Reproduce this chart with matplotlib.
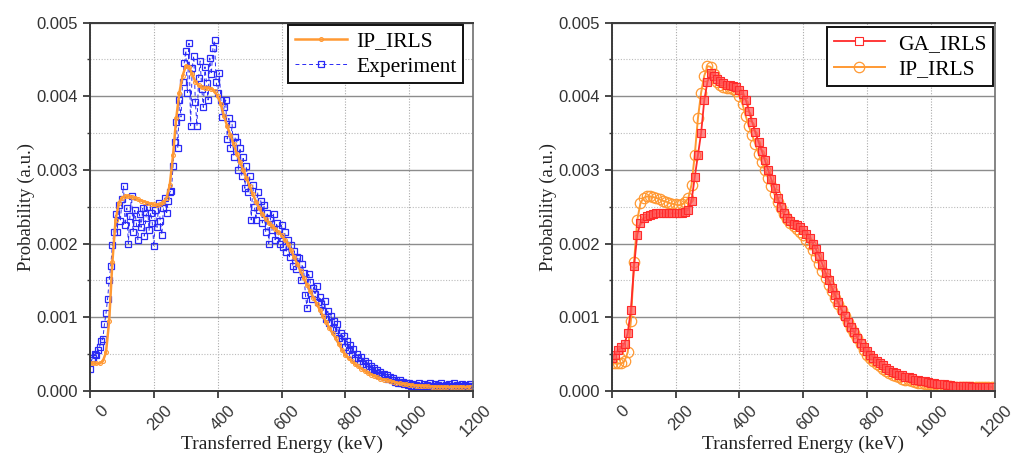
import numpy as np
import matplotlib
matplotlib.use("Agg")
import matplotlib.pyplot as plt
import matplotlib.transforms as mtransforms
from matplotlib.ticker import MultipleLocator, FormatStrFormatter

plt.rcParams["font.family"] = ["Liberation Sans", "DejaVu Sans"]

# energy grids (keV)
ip_energy = np.arange(0, 1200, 10)
exp_energy = np.arange(0, 1200, 5)

# IP_IRLS reconstruction, 10 keV steps
ip_irls = [
    0.00038, 0.00037, 0.00037, 0.00037, 0.00040, 0.00052, 0.00095, 0.00175, 0.00232, 0.00255,
    0.00262, 0.00264, 0.00264, 0.00263, 0.00262, 0.00260, 0.00258, 0.00257, 0.00255, 0.00254,
    0.00253, 0.00252, 0.00253, 0.00256, 0.00262, 0.00280, 0.00320, 0.00370, 0.00405, 0.00428,
    0.00441, 0.00440, 0.00430, 0.00420, 0.00415, 0.00412, 0.00411, 0.00411, 0.00410, 0.00407,
    0.00400, 0.00389, 0.00373, 0.00359, 0.00347, 0.00335, 0.00322, 0.00311, 0.00300, 0.00289,
    0.00278, 0.00267, 0.00257, 0.00248, 0.00240, 0.00233, 0.00228, 0.00224, 0.00220, 0.00216,
    0.00211, 0.00205, 0.00199, 0.00191, 0.00181, 0.00172, 0.00162, 0.00153, 0.00144, 0.00135,
    0.00126, 0.00118, 0.00110, 0.00101, 0.00093, 0.00085, 0.00078, 0.00071, 0.00063, 0.00055,
    0.00048, 0.00044, 0.00040, 0.00036, 0.00033, 0.00030, 0.00027, 0.00024, 0.00022, 0.00020,
    0.00018, 0.00016, 0.00015, 0.00014, 0.00013, 0.00012, 0.00011, 0.00010, 0.00009, 0.000085,
    0.00008, 0.000075, 0.00007, 0.000066, 0.000062, 0.00006, 0.000058, 0.000056, 0.000054, 0.000052,
    0.00005, 0.00005, 0.00005, 0.00005, 0.00005, 0.00005, 0.00005, 0.00005, 0.00005, 0.00005,
]

# GA_IRLS reconstruction, 10 keV steps
ga_irls = [
    0.00044, 0.00049, 0.00055, 0.00059, 0.00064, 0.00078, 0.00110, 0.00170, 0.00212, 0.00228,
    0.00234, 0.00237, 0.00239, 0.00240, 0.00241, 0.00241, 0.00241, 0.00241, 0.00241, 0.00241,
    0.00241, 0.00241, 0.00242, 0.00243, 0.00246, 0.00258, 0.00290, 0.00320, 0.00350, 0.00395,
    0.00420, 0.00431, 0.00428, 0.00424, 0.00421, 0.00418, 0.00416, 0.00415, 0.00414, 0.00412,
    0.00409, 0.00403, 0.00395, 0.00380, 0.00365, 0.00351, 0.00338, 0.00326, 0.00313, 0.00300,
    0.00287, 0.00275, 0.00262, 0.00250, 0.00241, 0.00234, 0.00230, 0.00227, 0.00225, 0.00222,
    0.00218, 0.00213, 0.00207, 0.00200, 0.00192, 0.00183, 0.00172, 0.00160, 0.00150, 0.00140,
    0.00130, 0.00120, 0.00110, 0.00101, 0.00094, 0.00087, 0.00080, 0.00072, 0.00065, 0.00059,
    0.00054, 0.00049, 0.00045, 0.00041, 0.00038, 0.00035, 0.00031, 0.00028, 0.00026, 0.00024,
    0.00022, 0.00021, 0.00019, 0.00018, 0.00017, 0.00015, 0.00014, 0.00013, 0.00013, 0.00012,
    0.00011, 0.00010, 0.000095, 0.00009, 0.000085, 0.00008, 0.000075, 0.00007, 0.000068, 0.000065,
    0.000062, 0.00006, 0.000058, 0.000056, 0.000055, 0.000054, 0.000053, 0.000052, 0.000051, 0.00005,
]

# measured spectrum, 5 keV steps
experiment = [
    # 0-75
    0.00030, 0.00042, 0.00045, 0.00050, 0.00048, 0.00055, 0.00060, 0.00068, 0.00070, 0.00090,
    0.00105, 0.00125, 0.00150, 0.00170, 0.00198, 0.00215,
    # 80-250
    0.00240, 0.00215, 0.00252, 0.00230, 0.00260, 0.00278, 0.00225, 0.00248, 0.00200, 0.00238,
    0.00265, 0.00215, 0.00245, 0.00228, 0.00205, 0.00240, 0.00222, 0.00248, 0.00210, 0.00235,
    0.00250, 0.00218, 0.00242, 0.00228, 0.00196, 0.00245, 0.00222, 0.00255, 0.00230, 0.00212,
    0.00248, 0.00262, 0.00242, 0.00258, 0.00270,
    # 255-300
    0.00272, 0.00305, 0.00338, 0.00365, 0.00330, 0.00395, 0.00372, 0.00420, 0.00445, 0.00462,
    # 305-420
    0.00405, 0.00472, 0.00360, 0.00438, 0.00455, 0.00392, 0.00360, 0.00425, 0.00448, 0.00410,
    0.00385, 0.00440, 0.00418, 0.00395, 0.00452, 0.00430, 0.00465, 0.00476, 0.00420, 0.00405,
    0.00432, 0.00395, 0.00372, 0.00385,
    # 425-650
    0.00395, 0.00342, 0.00370, 0.00330, 0.00362, 0.00318, 0.00345, 0.00338, 0.00300, 0.00330,
    0.00292, 0.00318, 0.00275, 0.00305, 0.00270, 0.00292, 0.00232, 0.00280, 0.00250, 0.00232,
    0.00270, 0.00245, 0.00258, 0.00228, 0.00252, 0.00215, 0.00242, 0.00200, 0.00235, 0.00218,
    0.00240, 0.00205, 0.00228, 0.00212, 0.00200, 0.00225, 0.00195, 0.00215, 0.00188, 0.00205,
    0.00182, 0.00198, 0.00170, 0.00190, 0.00165, 0.00182,
    # 655-1000
    0.00180, 0.00150, 0.00172, 0.00160, 0.00130, 0.00112, 0.00158, 0.00148, 0.00125, 0.00140,
    0.00132, 0.00142, 0.00120, 0.00128, 0.00118, 0.00108, 0.00122, 0.00098, 0.00108, 0.00092,
    0.00102, 0.00085, 0.00095, 0.00082, 0.00090, 0.00072, 0.00078, 0.00068, 0.00074, 0.00060,
    0.00068, 0.00055, 0.00062, 0.00050, 0.00056, 0.00045, 0.00050, 0.00044, 0.00040, 0.00046,
    0.00036, 0.00040, 0.00033, 0.00038, 0.00030, 0.00034, 0.00028, 0.00031, 0.00024, 0.00028,
    0.00022, 0.00025, 0.00020, 0.00023, 0.00018, 0.00021, 0.00016, 0.00019, 0.00015, 0.00017,
    0.00012, 0.00015, 0.00011, 0.00014, 0.00010, 0.00012, 0.00009, 0.00011, 0.00008, 0.00010,
    # 1005-1195
    0.00007, 0.00009, 0.00005, 0.00008, 0.00006, 0.00010, 0.00007, 0.00005, 0.00009, 0.00006,
    0.00008, 0.00005, 0.00010, 0.00007, 0.00006, 0.00009, 0.00005, 0.00008, 0.00006, 0.00010,
    0.00007, 0.00005, 0.00008, 0.00006, 0.00009, 0.00005, 0.00007, 0.00010, 0.00006, 0.00008,
    0.00005, 0.00007, 0.00009, 0.00006, 0.00008, 0.00005, 0.00007, 0.00009, 0.00006,
]

ORANGE = "#FF9933"
BLUE = "#2A2AF5"
RED = "#FF2A2A"
SERIF = ["Liberation Serif", "DejaVu Serif"]

fig = plt.figure(figsize=(10.14, 4.53), dpi=100)
ax1 = fig.add_axes([0.0888, 0.1375, 0.3777, 0.8124])
ax2 = fig.add_axes([0.6033, 0.1375, 0.3777, 0.8124])


def style_axes(ax):
    ax.set_xlim(0, 1200)
    ax.set_ylim(0, 0.005)
    ax.xaxis.set_major_locator(MultipleLocator(200))
    ax.yaxis.set_major_locator(MultipleLocator(0.001))
    ax.yaxis.set_minor_locator(MultipleLocator(0.0005))
    ax.yaxis.set_major_formatter(FormatStrFormatter("%.3f"))
    ax.grid(axis="y", which="major", color="#8C8C8C", lw=1.0, ls="-")
    ax.grid(axis="y", which="minor", color="#BBBBBB", lw=0.8, ls=(0, (1, 1.5)))
    ax.grid(axis="x", which="major", color="#AAAAAA", lw=0.8, ls=(0, (1, 1.5)))
    ax.set_axisbelow(True)
    for side in ["left", "bottom", "top"]:
        ax.spines[side].set_color("#3A3A3A")
        ax.spines[side].set_linewidth(1.4)
    ax.spines["right"].set_color("#707070")
    ax.spines["right"].set_linewidth(1.2)
    ax.tick_params(which="major", direction="out", length=5, width=1.3, color="#3A3A3A",
                   labelsize=12, labelcolor="#333333")
    ax.tick_params(which="minor", direction="out", length=2.5, width=1.0, color="#3A3A3A")
    ax.tick_params(axis="x", which="minor", bottom=False)
    offset = mtransforms.ScaledTranslation(0.10, 0.0, fig.dpi_scale_trans)
    for lab in ax.get_xticklabels():
        lab.set_rotation(45)
        lab.set_ha("right")
        lab.set_va("top")
        lab.set_rotation_mode("anchor")
        lab.set_transform(lab.get_transform() + offset)
    ax.set_xlabel("Transferred Energy (keV)", family=SERIF, fontsize=14, labelpad=-3, color="#222222")
    ax.set_ylabel("Probability (a.u.)", family=SERIF, fontsize=13.5, labelpad=1, color="#222222")


# left panel: fit vs experiment
exp_line, = ax1.plot(exp_energy, experiment, color=BLUE, lw=0.7, ls=(0, (4, 3)),
                     marker="s", ms=3.8, mfc="none", mec=BLUE, mew=0.9, label="Experiment")
ip_line, = ax1.plot(ip_energy, ip_irls, color=ORANGE, lw=1.8, marker="o", ms=2.8,
                    mfc="none", mec=ORANGE, mew=0.8, label="IP_IRLS")
style_axes(ax1)
leg1 = ax1.legend([ip_line, exp_line], ["IP_IRLS", "Experiment"], loc="upper right",
                  bbox_to_anchor=(0.974, 0.994), borderaxespad=0, prop={"family": SERIF, "size": 15.5},
                  fancybox=False, framealpha=1, edgecolor="#111111", handlelength=2.4,
                  handletextpad=0.45, labelspacing=0.25, borderpad=0.3)
leg1.get_frame().set_linewidth(1.4)

# right panel: GA vs IP
ip2, = ax2.plot(ip_energy, ip_irls, color=ORANGE, lw=1.4, marker="o", ms=7.5,
                mfc="none", mec=ORANGE, mew=0.9, label="IP_IRLS")
ga2, = ax2.plot(ip_energy, ga_irls, color=RED, lw=1.3, marker="s", ms=5.2,
                mfc=(1.0, 0.35, 0.35, 0.7), mec=RED, mew=0.8, label="GA_IRLS")
style_axes(ax2)
leg2 = ax2.legend([ga2, ip2], ["GA_IRLS", "IP_IRLS"], loc="upper right",
                  bbox_to_anchor=(0.996, 0.988), borderaxespad=0, prop={"family": SERIF, "size": 15.5},
                  fancybox=False, framealpha=1, edgecolor="#111111", handlelength=2.4,
                  handletextpad=0.6, labelspacing=0.25, borderpad=0.3)
leg2.get_frame().set_linewidth(1.4)
leg2.legend_handles[0].set_markerfacecolor("white")

fig.savefig("out.png", dpi=100)
